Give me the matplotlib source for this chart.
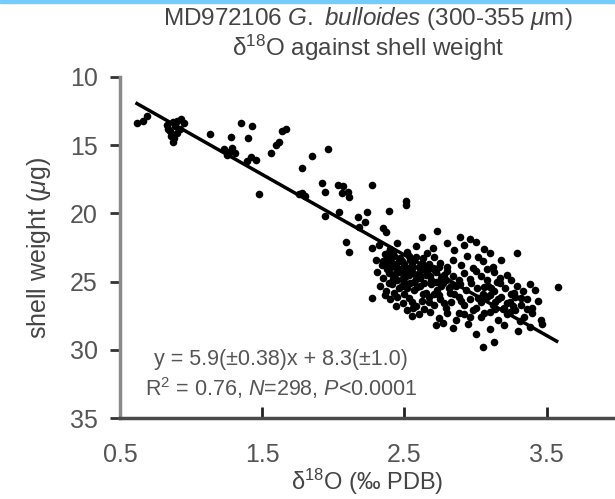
import numpy as np
import matplotlib
matplotlib.use('Agg')
import matplotlib.pyplot as plt

plt.rcParams['font.family'] = ['Liberation Sans', 'DejaVu Sans']
plt.rcParams['mathtext.fontset'] = 'custom'
plt.rcParams['mathtext.rm'] = 'Liberation Sans'
plt.rcParams['mathtext.it'] = 'Liberation Sans:italic'

# sparse points (upper left part of the cloud)
x_sparse = [0.62, 0.69, 0.66,
            0.83, 0.85, 0.87, 0.88, 0.90, 0.92, 0.95, 0.86, 0.90, 0.84, 0.93, 0.89, 0.87,
            1.13, 1.28, 1.35, 1.43, 1.40,
            1.23, 1.27, 1.31, 1.25, 1.29,
            1.39, 1.46, 1.42,
            1.56, 1.62, 1.67, 1.64, 1.60,
            1.48, 1.78, 1.85, 1.96,
            1.76, 1.80, 1.78,
            1.92, 1.94, 2.03, 2.06, 2.11, 2.10, 2.27, 2.07,
            1.94, 2.04, 2.17, 2.24, 2.22, 2.39, 2.51, 2.51,
            2.18, 2.35, 2.37, 2.09, 2.11, 2.27, 2.62, 2.73,
            2.27, 2.39, 2.44, 2.55, 2.77,
            3.29, 3.58, 2.89, 2.96, 3.05, 3.13, 3.22]
y_sparse = [13.4, 12.9, 13.2,
            13.5, 14.0, 13.3, 14.5, 13.2, 13.8, 13.4, 14.3, 14.1, 13.8, 13.1, 13.6, 14.8,
            14.2, 14.4, 13.4, 13.6, 14.5,
            15.3, 15.5, 15.6, 15.7, 15.2,
            16.2, 16.1, 15.9,
            15.6, 14.8, 13.8, 14.0, 15.0,
            18.6, 16.7, 15.8, 15.3,
            18.6, 18.7, 18.5,
            17.8, 18.4, 17.9, 18.5, 18.8, 18.4, 17.9, 18.0,
            20.2, 19.9, 20.3, 19.9, 20.6, 19.8, 19.1, 19.4,
            21.0, 21.1, 21.4, 22.1, 22.8, 22.5, 21.7, 21.3,
            26.2, 25.1, 26.8, 27.5, 28.0,
            22.9, 25.4, 21.7, 21.9, 29.8, 29.4, 24.5]

# dense cluster
x_dense = [2.32, 2.40, 2.45, 2.52, 2.58, 2.66, 2.80, 2.85, 2.92, 3.00, 3.06, 2.42, 2.36, 3.10, 2.70,
           2.30, 2.34, 2.38, 2.41, 2.44, 2.47, 2.50, 2.53, 2.56, 2.60, 2.63, 2.67, 2.71, 2.75, 2.80,
           2.84, 2.90, 3.05, 3.12, 3.18, 2.46, 2.52, 2.58, 2.40,
           2.31, 2.35, 2.38, 2.42, 2.45, 2.48, 2.51, 2.55, 2.58, 2.62, 2.65, 2.69, 2.72, 2.76, 2.80,
           2.84, 2.88, 2.92, 2.96, 3.00, 3.04, 3.08, 3.13, 3.17, 3.25, 2.44, 2.49, 2.53, 2.60, 2.68,
           2.33, 2.37, 2.41, 2.46, 2.50, 2.54, 2.57, 2.61, 2.65, 2.69, 2.73, 2.77, 2.81, 2.85, 2.89,
           2.93, 2.97, 3.01, 3.05, 3.09, 3.13, 3.17, 3.21, 3.25, 3.29, 3.33, 3.38, 3.42, 2.48, 2.59,
           2.83, 3.11,
           2.40, 2.45, 2.49, 2.53, 2.58, 2.62, 2.67, 2.71, 2.75, 2.79, 2.83, 2.88, 2.92, 2.96, 3.00,
           3.04, 3.08, 3.12, 3.16, 3.20, 3.24, 3.28, 3.32, 3.36, 3.40, 3.44, 3.14, 3.26, 2.55,
           2.52, 2.60, 2.68, 2.74, 2.80, 2.86, 2.92, 2.98, 3.04, 3.10, 3.16, 3.22, 3.28, 3.34, 3.40,
           3.46, 3.19, 3.31,
           2.72, 2.84, 2.95, 3.10, 3.20, 3.30, 3.38, 3.47, 3.00,
           2.35, 2.39, 2.43, 2.47, 2.55, 2.62, 2.66, 2.70, 2.74, 2.78, 2.43, 2.36, 2.52, 2.63, 2.71,
           2.94, 2.98, 3.08, 3.15, 3.02,
           2.37, 2.40, 2.44, 2.48, 2.51, 2.55, 2.58, 2.42, 2.46, 2.50, 2.54, 2.39, 2.57, 2.61, 2.64,
           2.68, 2.72, 2.76, 2.79, 2.82, 2.86, 2.74, 2.67, 2.78, 2.90, 3.02, 3.06, 3.10, 3.18, 3.22,
           3.27, 3.32, 3.36, 3.24, 3.14, 3.06, 2.96, 2.88, 2.64, 2.56]
y_dense = [22.3, 22.6, 22.2, 22.8, 22.4, 22.9, 22.2, 22.7, 22.3, 22.1, 22.6, 22.9, 23.0, 22.9, 22.5,
           23.4, 23.8, 23.2, 23.6, 23.9, 23.3, 23.7, 23.1, 23.5, 23.9, 23.3, 23.7, 23.2, 23.6, 23.9,
           23.4, 23.8, 23.5, 23.9, 23.4, 23.5, 24.0, 23.2, 24.0,
           24.3, 24.7, 24.1, 24.5, 24.9, 24.2, 24.6, 24.3, 24.8, 24.1, 24.5, 24.9, 24.3, 24.7, 24.2,
           24.6, 24.9, 24.4, 24.8, 24.2, 24.6, 24.9, 24.3, 24.7, 24.9, 24.4, 24.7, 24.5, 24.4, 24.6,
           25.3, 25.7, 25.2, 25.5, 25.9, 25.1, 25.6, 25.3, 25.8, 25.2, 25.6, 25.1, 25.5, 25.9, 25.2,
           25.6, 25.1, 25.5, 25.9, 25.3, 25.7, 25.1, 25.5, 25.9, 25.3, 25.7, 25.2, 25.6, 25.3, 25.4,
           25.3, 25.5,
           26.3, 26.1, 26.6, 26.2, 26.8, 26.4, 26.1, 26.7, 26.3, 26.9, 26.5, 26.1, 26.7, 26.3, 26.9,
           26.5, 26.1, 26.7, 26.3, 26.9, 26.5, 26.1, 26.7, 26.3, 26.9, 26.4, 26.5, 26.8, 26.5,
           27.1, 27.4, 27.2, 27.7, 27.3, 27.8, 27.4, 27.1, 27.6, 27.2, 27.8, 27.4, 27.1, 27.6, 27.3,
           27.8, 27.0, 27.9,
           28.2, 28.4, 28.1, 28.5, 28.2, 28.6, 28.3, 28.1, 28.8,
           23.5, 24.4, 23.1, 24.1, 23.8, 23.6, 24.2, 24.0, 23.9, 24.5, 25.8, 26.0, 25.5, 25.9, 25.9,
           23.1, 24.0, 24.1, 25.0, 23.2,
           23.7, 23.4, 23.7, 23.5, 24.4, 24.0, 24.5, 24.8, 24.3, 25.0, 23.4, 22.8, 25.0, 24.7, 25.1,
           24.0, 25.0, 25.3, 24.9, 25.8, 25.3, 26.0, 26.5, 26.6, 26.4, 26.2, 25.4, 26.0, 26.1, 26.6,
           25.8, 26.2, 27.0, 27.2, 27.0, 27.3, 27.6, 27.3, 27.0, 26.9]

# regression from the figure
slope = 5.9
intercept = 8.3
fit_x = [0.62, 3.57]

x_ticks = [0.5, 1.5, 2.5, 3.5]
y_ticks = [10, 15, 20, 25, 30, 35]

fig = plt.figure(figsize=(6.15, 4.99), dpi=100)
ax = fig.add_axes([0.195, 0.162, 0.805, 0.684])

ax.scatter(x_sparse + x_dense, y_sparse + y_dense, s=30, color='black', linewidths=0, zorder=3)
ax.plot(fit_x, [slope * v + intercept for v in fit_x], color='black', lw=2.5, zorder=4)

ax.set_xlim(0.5, 3.98)
ax.set_ylim(35, 10)
ax.set_xticks(x_ticks)
ax.set_xticklabels([f'{v:.1f}' for v in x_ticks])
ax.set_yticks(y_ticks)

for s in ['top', 'right']:
    ax.spines[s].set_visible(False)
ax.spines['left'].set_color('#8a8a8a')
ax.spines['left'].set_linewidth(2.5)
ax.spines['bottom'].set_color('#4a4a4a')
ax.spines['bottom'].set_linewidth(2.5)

ax.tick_params(axis='y', direction='out', length=7, width=2, color='#333333',
               labelsize=18, labelcolor='#555555', pad=9)
ax.tick_params(axis='x', direction='in', length=8, width=2, color='#222222',
               labelsize=18, labelcolor='#555555', pad=18)

ax.set_xlabel(r'δ$^{18}$O (‰ PDB)', fontsize=17, color='#444444', labelpad=0)
ax.set_ylabel(r'shell weight ($\mu$g)', fontsize=18, color='#444444', labelpad=12)

fig.text(0.598, 0.963, r'MD972106 $\it{G.}$ $\it{bulloides}$ (300-355 $\mu$m)', ha='center', va='center',
         fontsize=17.5, color='#444444')
fig.text(0.598, 0.905, r'δ$^{18}$O against shell weight', ha='center', va='center',
         fontsize=17.5, color='#444444')

ax.text(0.457, 0.28, 'y = 5.9(±0.38)x + 8.3(±1.0)', transform=fig.transFigure, ha='center',
        va='center', fontsize=15.5, color='#555555')
ax.text(0.457, 0.222, r'R$^2$ = 0.76, $\it{N}$=298, $\it{P}$<0.0001', transform=fig.transFigure,
        ha='center', va='center', fontsize=15.5, color='#555555')

# light blue strip along the top edge
fig.patches.append(plt.Rectangle((0, 0.993), 1, 0.007, transform=fig.transFigure,
                                 color='#73cdf8', zorder=10))

fig.savefig('out.png', dpi=100)
